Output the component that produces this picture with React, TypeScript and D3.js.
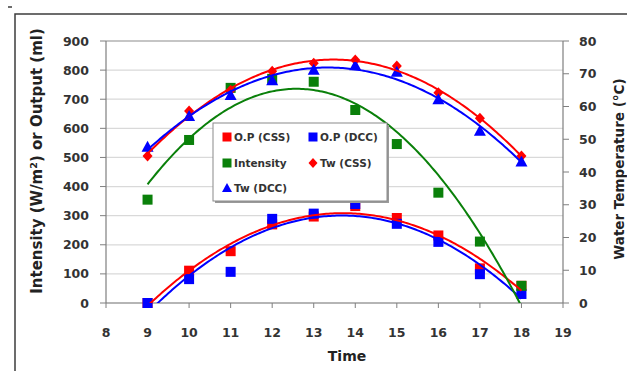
import React from "react";
import * as d3 from "d3";

// ---- data ----
const hours = [9, 10, 11, 12, 13, 14, 15, 16, 17, 18];
const opCss = [0, 111, 178, 270, 297, 333, 292, 232, 119, 59];
const opDcc = [0, 82, 107, 289, 307, 340, 272, 210, 99, 31];
const intensity = [355, 560, 739, 770, 760, 663, 546, 379, 211, 59];
const twCss = [44.9, 58.6, 65, 70.8, 73.2, 74.2, 72.4, 64.2, 56.4, 44.9];
const twDcc = [47.7, 57.1, 63.5, 68, 71.2, 72.6, 70.6, 62.2, 52.6, 43.2];

const xTicks = [8, 9, 10, 11, 12, 13, 14, 15, 16, 17, 18, 19];
const leftTicks = [0, 100, 200, 300, 400, 500, 600, 700, 800, 900];
const rightTicks = [0, 10, 20, 30, 40, 50, 60, 70, 80];

const RED = "#ff0000";
const BLUE = "#0000ff";
const GREEN = "#0a800a";
const FONT = "'DejaVu Sans', Verdana, sans-serif";

// least squares 2nd order polynomial (like Excel's trendline)
function quadFit(xs: number[], ys: number[]) {
  const m = d3.mean(xs) as number;
  const t = xs.map((x) => x - m);
  const n = xs.length;
  const s1 = d3.sum(t), s2 = d3.sum(t, (v) => v * v);
  const s3 = d3.sum(t, (v) => v ** 3), s4 = d3.sum(t, (v) => v ** 4);
  const sy = d3.sum(ys), sty = d3.sum(t, (v, i) => v * ys[i]);
  const st2y = d3.sum(t, (v, i) => v * v * ys[i]);
  // solve [[n,s1,s2],[s1,s2,s3],[s2,s3,s4]] * [a,b,c] = [sy,sty,st2y]
  const A = [
    [n, s1, s2, sy],
    [s1, s2, s3, sty],
    [s2, s3, s4, st2y],
  ];
  for (let i = 0; i < 3; i++) {
    for (let j = i + 1; j < 3; j++) {
      const f = A[j][i] / A[i][i];
      for (let k = i; k < 4; k++) A[j][k] -= f * A[i][k];
    }
  }
  const c = A[2][3] / A[2][2];
  const b = (A[1][3] - A[1][2] * c) / A[1][1];
  const a = (A[0][3] - A[0][1] * b - A[0][2] * c) / A[0][0];
  return (x: number) => a + b * (x - m) + c * (x - m) * (x - m);
}

export default function App() {
  const width = 627;
  const height = 371;
  const margin = { top: 41, left: 106, right: 64, bottom: 68 };
  const x0 = margin.left, x1 = width - margin.right;
  const y0 = height - margin.bottom, y1 = margin.top;

  const xScale = d3.scaleLinear().domain([8, 19]).range([x0, x1]);
  const yLeft = d3.scaleLinear().domain([0, 900]).range([y0, y1]);
  const yRight = d3.scaleLinear().domain([0, 80]).range([y0, y1]);

  const samples = d3.range(9, 18.0001, 0.05);
  const trend = (ys: number[], ys2: d3.ScaleLinear<number, number>) => {
    const f = quadFit(hours, ys);
    return d3
      .line<number>()
      .x((d) => xScale(d))
      .y((d) => ys2(f(d)))(samples) as string;
  };

  const square = (cx: number, cy: number, color: string, key: string) => (
    <rect key={key} x={cx - 5} y={cy - 5} width={10} height={10} fill={color} />
  );
  const diamond = (cx: number, cy: number, key: string) => (
    <path
      key={key}
      d={`M${cx},${cy - 5.5}L${cx + 5},${cy}L${cx},${cy + 5.5}L${cx - 5},${cy}Z`}
      fill={RED}
    />
  );
  const triangle = (cx: number, cy: number, key: string) => (
    <path
      key={key}
      d={`M${cx},${cy - 6}L${cx + 6},${cy + 5}L${cx - 6},${cy + 5}Z`}
      fill={BLUE}
    />
  );

  const legendItems = [
    { label: "O.P (CSS)", x: 227, y: 137, kind: "sq", color: RED },
    { label: "O.P (DCC)", x: 313, y: 137, kind: "sq", color: BLUE },
    { label: "Intensity", x: 227, y: 163, kind: "sq", color: GREEN },
    { label: "Tw (CSS)", x: 313, y: 163, kind: "di", color: RED },
    { label: "Tw (DCC)", x: 227, y: 188, kind: "tr", color: BLUE },
  ];

  return (
    <svg
      width={width}
      height={height}
      style={{ position: "absolute", left: 0, top: 0, background: "#fff" }}
      fontFamily={FONT}
    >
      <defs>
        <clipPath id="plot-clip">
          <rect x={x0} y={y1} width={x1 - x0} height={y0 - y1} />
        </clipPath>
      </defs>

      {/* outer frame */}
      <path d={`M15,${height}V14H${width}`} fill="none" stroke="#3c3c3c" strokeWidth={1.5} />
      <line x1={8} x2={12} y1={7} y2={7} stroke="#3c3c3c" strokeWidth={1.5} />

      {/* gridlines */}
      {leftTicks.map((t) => (
        <line
          key={"g" + t}
          x1={x0}
          x2={x1}
          y1={yLeft(t)}
          y2={yLeft(t)}
          stroke={t === 900 ? "#8c8c8c" : "#d9d9d9"}
          strokeWidth={1.2}
        />
      ))}

      {/* axes */}
      <line x1={x0} x2={x0} y1={y1} y2={y0} stroke="#7f7f7f" strokeWidth={1.2} />
      <line x1={x1} x2={x1} y1={y1} y2={y0} stroke="#7f7f7f" strokeWidth={1.2} />
      <line x1={x0} x2={x1} y1={y0} y2={y0} stroke="#7f7f7f" strokeWidth={1.2} />
      {leftTicks.map((t) => (
        <g key={"l" + t}>
          <line x1={x0 - 6} x2={x0} y1={yLeft(t)} y2={yLeft(t)} stroke="#7f7f7f" />
          <text x={x0 - 17} y={yLeft(t) + 4.5} textAnchor="end" fontSize={12.5} fontWeight="bold" fill="#333">
            {t}
          </text>
        </g>
      ))}
      {rightTicks.map((t) => (
        <g key={"r" + t}>
          <line x1={x1} x2={x1 + 6} y1={yRight(t)} y2={yRight(t)} stroke="#7f7f7f" />
          <text x={x1 + 16} y={yRight(t) + 4.5} textAnchor="start" fontSize={12.5} fontWeight="bold" fill="#333">
            {t}
          </text>
        </g>
      ))}
      {xTicks.map((t) => (
        <g key={"x" + t}>
          <line x1={xScale(t)} x2={xScale(t)} y1={y0} y2={y0 + 5} stroke="#7f7f7f" />
          <text x={xScale(t)} y={y0 + 34} textAnchor="middle" fontSize={12.5} fontWeight="bold" fill="#333">
            {t}
          </text>
        </g>
      ))}

      {/* axis titles */}
      <text x={347} y={361} textAnchor="middle" fontSize={14} fontWeight="bold" fill="#222">
        Time
      </text>
      <text
        transform="translate(42,161) rotate(-90)"
        textAnchor="middle"
        fontSize={15}
        fontWeight="bold"
        fill="#222"
      >
        Intensity (W/m<tspan dy={-5} fontSize={9.5}>2</tspan>
        <tspan dy={5}>) or Output (ml)</tspan>
      </text>
      <text
        transform="translate(624,169) rotate(-90)"
        textAnchor="middle"
        fontSize={13.5}
        fontWeight="bold"
        fill="#222"
      >
        Water Temperature (°C)
      </text>

      {/* markers */}
      {hours.map((h, i) => square(xScale(h), yLeft(opCss[i]), RED, "oc" + i))}
      {hours.map((h, i) => square(xScale(h), yLeft(opDcc[i]), BLUE, "od" + i))}
      {hours.map((h, i) => square(xScale(h), yLeft(intensity[i]), GREEN, "in" + i))}
      {hours.map((h, i) => diamond(xScale(h), yRight(twCss[i]), "tc" + i))}
      {hours.map((h, i) => triangle(xScale(h), yRight(twDcc[i]), "td" + i))}

      {/* trendlines */}
      <g clipPath="url(#plot-clip)" fill="none" strokeWidth={2}>
        <path d={trend(opCss, yLeft)} stroke={RED} />
        <path d={trend(opDcc, yLeft)} stroke={BLUE} />
        <path d={trend(intensity, yLeft)} stroke={GREEN} />
        <path d={trend(twCss, yRight)} stroke={RED} />
        <path d={trend(twDcc, yRight)} stroke={BLUE} />
      </g>

      {/* legend */}
      <rect x={215} y={125} width={174} height={78} fill="#9a9a9a" />
      <rect x={213} y={123} width={174} height={78} fill="#fff" stroke="#8a8a8a" strokeWidth={1} />
      {legendItems.map((d) => (
        <g key={d.label}>
          {d.kind === "sq" ? (
            <rect x={d.x - 4.5} y={d.y - 4.5} width={9} height={9} fill={d.color} />
          ) : d.kind === "di" ? (
            <path d={`M${d.x},${d.y - 5}L${d.x + 4.5},${d.y}L${d.x},${d.y + 5}L${d.x - 4.5},${d.y}Z`} fill={d.color} />
          ) : (
            <path d={`M${d.x},${d.y - 5}L${d.x + 5},${d.y + 4}L${d.x - 5},${d.y + 4}Z`} fill={d.color} />
          )}
          <text x={d.x + 7} y={d.y + 4} fontSize={10.5} fontWeight="bold" fill="#333">
            {d.label}
          </text>
        </g>
      ))}
    </svg>
  );
}
